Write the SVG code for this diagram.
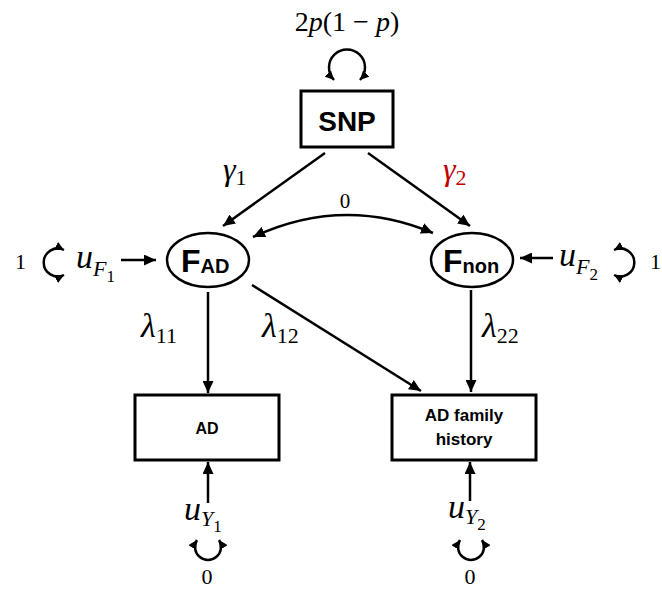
<svg xmlns="http://www.w3.org/2000/svg" width="662" height="591" viewBox="0 0 662 591">
<defs>
<marker id="ah" markerUnits="userSpaceOnUse" markerWidth="13" markerHeight="11" refX="12" refY="5.5" orient="auto-start-reverse"><path d="M0,0 L12,5.5 L0,11 Z" fill="#000"/></marker>
<marker id="sh" markerUnits="userSpaceOnUse" markerWidth="10" markerHeight="9" refX="9" refY="4.5" orient="auto-start-reverse"><path d="M0,0 L9,4.5 L0,9 Z" fill="#000"/></marker>
</defs>
<style>
.ln{stroke:#000;stroke-width:2.5;fill:none}
.bx{stroke:#000;stroke-width:3;fill:#fff}
.b{font-family:"Liberation Sans",Arial,sans-serif;font-weight:bold;fill:#000}
.m{font-family:"Liberation Serif","DejaVu Serif",serif;fill:#000}
.i{font-style:italic}
</style>
<rect width="662" height="591" fill="#fff"/>
<g id="connectors">
<path class="ln" d="M325,153 L223,226" marker-end="url(#ah)"/>
<path class="ln" d="M368,153 L470,226" marker-end="url(#ah)"/>
<path class="ln" d="M121,260 L156,260" marker-end="url(#ah)"/>
<path class="ln" d="M553,258 L520,258" marker-end="url(#ah)"/>
<path class="ln" d="M208,292 L208,393" marker-end="url(#ah)"/>
<path class="ln" d="M252,285 L421,391" marker-end="url(#ah)"/>
<path class="ln" d="M471,290 L471,392" marker-end="url(#ah)"/>
<path class="ln" d="M208,503 L208,462" marker-end="url(#ah)"/>
<path class="ln" d="M470,501 L470,462" marker-end="url(#ah)"/>
<path class="ln" d="M253,237 Q343,195 433,233" marker-start="url(#ah)" marker-end="url(#ah)"/>
<path class="ln" d="M334,80 A18,18 0 1 1 360,80" marker-start="url(#sh)" marker-end="url(#sh)"/>
<path class="ln" d="M64,250 A14,14 0 1 0 64,275" marker-start="url(#sh)" marker-end="url(#sh)"/>
<path class="ln" d="M614,250 A14,14 0 1 1 614,275" marker-start="url(#sh)" marker-end="url(#sh)"/>
<path class="ln" d="M197,540 A13,13 0 1 0 219,540" marker-start="url(#sh)" marker-end="url(#sh)"/>
<path class="ln" d="M460,540 A13,13 0 1 0 482,540" marker-start="url(#sh)" marker-end="url(#sh)"/>
</g>
<g id="snp">
<rect class="bx" x="301" y="91" width="92" height="56"/>
<text class="b" x="347" y="131" font-size="28" text-anchor="middle">SNP</text>
</g>
<g id="snp-var">
<text class="m" x="347" y="31" font-size="28" text-anchor="middle">2<tspan class="i">p</tspan>(1 − <tspan class="i">p</tspan>)</text>
</g>
<g id="fad">
<ellipse cx="208" cy="260" rx="41" ry="27" fill="#fff" stroke="#000" stroke-width="2.5"/>
<text class="b" x="181" y="272" font-size="32">F<tspan font-size="20" dy="1">AD</tspan></text>
</g>
<g id="fnon">
<ellipse cx="472" cy="260" rx="41" ry="27" fill="#fff" stroke="#000" stroke-width="2.5"/>
<text class="b" x="443" y="272" font-size="32">F<tspan font-size="20" dy="1">non</tspan></text>
</g>
<g id="ad">
<rect class="bx" x="135" y="395" width="144" height="65"/>
<text class="b" x="207" y="434" font-size="16" text-anchor="middle">AD</text>
</g>
<g id="adfh">
<rect class="bx" x="392" y="395" width="144" height="65"/>
<text class="b" x="464" y="421" font-size="17" text-anchor="middle">AD family</text>
<text class="b" x="464" y="445" font-size="17" text-anchor="middle">history</text>
</g>
<g id="uf1">
<text class="m" x="15" y="269" font-size="22">1</text>
<text class="m i" x="76" y="268" font-size="34">u<tspan font-size="22" dy="8">F</tspan><tspan font-size="17" font-style="normal" dy="6">1</tspan></text>
</g>
<g id="uf2">
<text class="m" x="650" y="269" font-size="22">1</text>
<text class="m i" x="559" y="266" font-size="34">u<tspan font-size="22" dy="8">F</tspan><tspan font-size="17" font-style="normal" dy="6">2</tspan></text>
</g>
<g id="uy1">
<text class="m i" x="184" y="520" font-size="34">u<tspan font-size="22" dy="6">Y</tspan><tspan font-size="17" font-style="normal" dy="6">1</tspan></text>
<text class="m" x="207" y="584" font-size="22" text-anchor="middle">0</text>
</g>
<g id="uy2">
<text class="m i" x="448" y="518" font-size="34">u<tspan font-size="22" dy="6">Y</tspan><tspan font-size="17" font-style="normal" dy="6">2</tspan></text>
<text class="m" x="470" y="584" font-size="22" text-anchor="middle">0</text>
</g>
<g id="labels">
<text class="m i" x="223" y="180" font-size="32">γ<tspan font-size="22" font-style="normal" dy="5">1</tspan></text>
<text class="m i" x="443" y="180" font-size="32" style="fill:#c00000">γ<tspan font-size="22" font-style="normal" dy="5">2</tspan></text>
<text class="m" x="345" y="208" font-size="21" text-anchor="middle">0</text>
<text class="m i" x="141" y="337" font-size="34">λ<tspan font-size="22" font-style="normal" dy="6">11</tspan></text>
<text class="m i" x="262" y="337" font-size="34">λ<tspan font-size="22" font-style="normal" dy="6">12</tspan></text>
<text class="m i" x="482" y="337" font-size="34">λ<tspan font-size="22" font-style="normal" dy="6">22</tspan></text>
</g>
</svg>
